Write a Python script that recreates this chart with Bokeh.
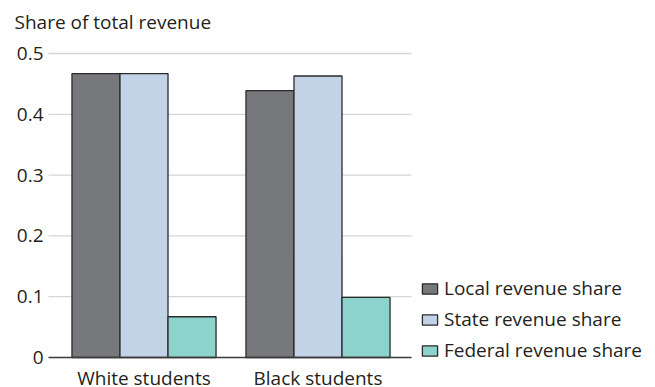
from bokeh.plotting import figure
from bokeh.models import Range1d, Legend, LegendItem, ColumnDataSource
from bokeh.core.properties import value
from bokeh.transform import dodge
from bokeh.embed import file_html
from bokeh.resources import INLINE

groups = ["White students", "Black students"]
local_share = [0.467, 0.439]
state_share = [0.467, 0.463]
federal_share = [0.067, 0.099]
series_names = ["Local revenue share", "State revenue share", "Federal revenue share"]
y_ticks = [0, 0.1, 0.2, 0.3, 0.4, 0.5]
y_tick_labels = ["0", "0.1", "0.2", "0.3", "0.4", "0.5"]
y_title = "Share of total revenue"

colors = ["#77787b", "#c3d3e7", "#8bd3cb"]
FONT = "Open Sans"
TEXT_COLOR = "#231f20"

xpos = list(range(len(groups)))
src = ColumnDataSource(dict(x=xpos, g=groups, local=local_share,
                            state=state_share, federal=federal_share))

W, H = 655, 387
# layout constants: the frame fills the whole canvas
PX_X = 174.0             # pixels per category step
PX_Y = 608.0             # pixels per unit of share
X_START = -143.5 / PX_X
X_END = X_START + W / PX_X
X_PLOT0 = X_START + 48 / PX_X
X_PLOT1 = X_START + 411 / PX_X
Y_START = -(H - 357) / PX_Y
Y_END = 0.5 + 53 / PX_Y

p = figure(width=W, height=H, output_backend="svg", toolbar_location=None,
           x_range=Range1d(X_START, X_END), y_range=Range1d(Y_START, Y_END),
           x_axis_location=None, y_axis_location=None,
           min_border=0)
p.outline_line_color = None
p.background_fill_color = "white"
p.xgrid.grid_line_color = None
p.ygrid.grid_line_color = None

# horizontal grid lines (only across the plotting region)
grid_y = y_ticks[1:]
p.segment(x0=[X_PLOT0] * len(grid_y), x1=[X_PLOT1] * len(grid_y), y0=grid_y, y1=grid_y,
          line_color="#d6d6d6", line_width=1.3, level="underlay")

bw = 0.276
renderers = []
for col, off, c in zip(["local", "state", "federal"], [-bw, 0, bw], colors):
    r = p.vbar(x=dodge("x", off), top=col, width=bw, source=src,
               fill_color=c, line_color="#2b2b2b", line_width=1.3)
    renderers.append(r)

# baseline axis line
p.segment(x0=[X_PLOT0], x1=[X_PLOT1], y0=[0], y1=[0], line_color="#3a3a3a", line_width=1.5)

txt = dict(text_font=value(FONT), text_font_size="19px", text_color=TEXT_COLOR)

# category labels
p.text(x="x", y=0, text="g", source=src, text_align="center", text_baseline="alphabetic",
       y_offset=20, **txt)

# y tick labels
p.text(x=[X_PLOT0] * len(y_ticks), y=y_ticks, text=y_tick_labels, x_offset=-5,
       text_align="right", text_baseline="middle", **txt)

# axis title
p.text(x=[X_START + 14 / PX_X], y=[Y_END], text=[y_title], y_offset=21,
       text_align="left", text_baseline="alphabetic", **txt)

legend = Legend(items=[LegendItem(label=n, renderers=[r]) for n, r in zip(series_names, renderers)],
                location=(420, 24), glyph_width=19, glyph_height=13, label_height=13,
                spacing=5, label_standoff=5, padding=0, margin=0,
                border_line_color=None, background_fill_alpha=0,
                label_text_font=FONT, label_text_font_size="19px", label_text_color=TEXT_COLOR)
p.add_layout(legend, "center")

open("out.html", "w").write(file_html(p, INLINE))
